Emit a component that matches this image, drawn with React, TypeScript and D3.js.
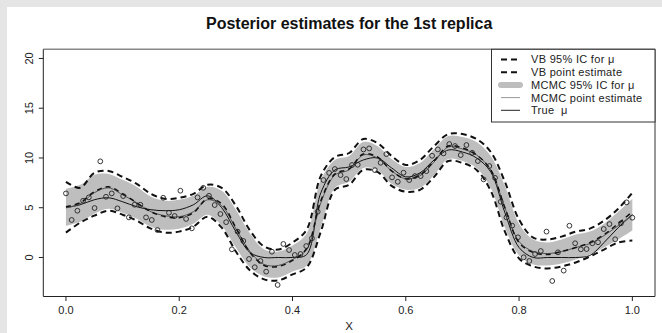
import React from 'react';
import * as d3 from 'd3';

// grid on which the curves were read
const gridX = [0, 0.025, 0.05, 0.075, 0.1, 0.125, 0.15, 0.175, 0.2, 0.225, 0.25, 0.275, 0.3, 0.325, 0.35, 0.375, 0.4, 0.425, 0.45, 0.475, 0.5, 0.525, 0.55, 0.575, 0.6, 0.625, 0.65, 0.675, 0.7, 0.725, 0.75, 0.775, 0.8, 0.825, 0.85, 0.875, 0.9, 0.925, 0.95, 0.975, 1.0];

const trueMu = [5.0, 5.3, 5.8, 6.0, 5.6, 5.1, 4.8, 4.7, 4.8, 5.3, 6.2, 5.0, 2.6, 0.5, 0, 0, 0, 0.3, 6.5, 8.8, 9.1, 9.8, 10.0, 9.0, 8.1, 8.5, 9.8, 10.8, 10.6, 10.0, 8.6, 4.5, 1.0, 0, 0, 0, 0, 0.2, 1.5, 3.0, 4.3];

const mcmcMean = [5.0, 5.4, 6.5, 7.0, 6.3, 5.5, 4.6, 4.2, 4.1, 4.6, 5.8, 5.2, 2.9, 0.6, -0.7, -0.8, -0.2, 0.8, 5.5, 8.3, 8.8, 10.3, 10.0, 8.7, 7.9, 8.2, 9.6, 11.1, 10.9, 10.3, 8.8, 5.0, 1.6, 0.6, 0.4, 0.6, 1.0, 1.4, 2.2, 3.2, 4.3];
const mcmcLo = [3.2, 3.6, 4.4, 4.9, 4.5, 3.9, 3.1, 2.8, 2.9, 3.4, 4.3, 3.2, 1.0, -1.0, -1.9, -2.0, -1.4, -0.8, 3.0, 7.0, 7.6, 9.0, 8.8, 7.4, 6.8, 7.0, 8.3, 9.9, 9.7, 9.0, 7.0, 3.0, 0.2, -0.7, -0.8, -0.6, -0.2, 0.3, 1.0, 1.8, 2.7];
const mcmcHi = [6.9, 7.3, 8.3, 8.4, 7.8, 7.1, 6.1, 5.7, 5.8, 6.2, 7.1, 6.7, 4.8, 2.4, 0.8, 0.6, 1.2, 2.4, 7.8, 9.8, 10.2, 11.6, 11.2, 9.9, 9.1, 9.5, 10.9, 12.2, 12.1, 11.6, 10.2, 7.2, 3.4, 1.8, 1.5, 1.8, 2.3, 2.6, 3.4, 4.6, 5.9];

const vbMean = [5.1, 5.5, 6.6, 7.1, 6.4, 5.5, 4.6, 4.1, 4.0, 4.5, 5.9, 5.4, 3.0, 0.5, -0.8, -0.9, -0.3, 0.9, 5.7, 8.4, 8.9, 10.4, 10.1, 8.7, 7.9, 8.3, 9.7, 11.2, 11.0, 10.3, 8.8, 5.0, 1.5, 0.5, 0.3, 0.6, 1.0, 1.5, 2.3, 3.4, 4.6];
const vbLo = [2.5, 3.5, 4.2, 4.7, 4.3, 3.7, 2.9, 2.5, 2.6, 3.1, 4.1, 3.0, 0.6, -1.3, -2.2, -2.3, -1.7, -1.0, 2.6, 6.8, 7.3, 8.8, 8.6, 7.2, 6.6, 6.8, 8.1, 9.7, 9.5, 8.8, 6.7, 2.6, -0.1, -0.9, -1.1, -0.9, -0.5, 0.1, 0.8, 1.5, 1.7];
const vbHi = [7.6, 7.0, 8.5, 8.7, 8.1, 7.4, 6.4, 5.9, 6.0, 6.4, 7.3, 7.0, 5.2, 2.7, 1.1, 0.8, 1.5, 2.8, 8.2, 10.1, 10.5, 11.9, 11.5, 10.2, 9.3, 9.8, 11.2, 12.4, 12.4, 11.9, 10.6, 7.6, 3.8, 2.0, 1.8, 2.1, 2.6, 2.9, 3.7, 4.9, 6.5];

// observations (100 equally spaced points on [0,1])
const obsY = [6.44, 3.77, 4.7, 5.7, 6.04, 4.97, 9.66, 6.1, 6.44, 4.94, 6.17, 4.03, 5.3, 5.3, 4.03, 3.77, 2.76, 6.0, 4.5, 4.17, 6.71, 3.87, 2.93, 6.04, 7.0, 6.2, 5.27, 4.37, 3.55, 0.82, 2.6, 1.66, -0.15, -0.98, -0.35, -1.42, 0.58, -2.76, 1.36, 0.75, 0.25, 0.35, 1.15, 1.93, 4.6, 7.78, 8.5, 8.89, 8.28, 7.88, 9.29, 9.32, 10.86, 10.96, 8.78, 9.52, 10.39, 8.05, 7.61, 8.52, 7.78, 8.18, 8.18, 8.68, 10.22, 10.86, 10.46, 11.4, 11.2, 10.29, 11.3, 10.52, 9.69, 7.85, 9.19, 8.0, 5.6, 4.03, 3.2, 2.03, 0.02, -0.35, 0.35, 0.65, 2.6, -2.36, 0.52, -1.32, 3.19, 1.43, 0.82, 0.85, 1.43, 1.53, 2.86, 3.36, 1.83, 3.43, 5.54, 4.0];

const xTicks = [0, 0.2, 0.4, 0.6, 0.8, 1.0];
const xTickLabels = ['0.0', '0.2', '0.4', '0.6', '0.8', '1.0'];
const yTicks = [0, 5, 10, 15, 20];
const yTickLabels = ['0', '5', '10', '15', '20'];

const legendLabels = ['VB 95% IC for \u03bc', 'VB point estimate', 'MCMC 95% IC for \u03bc', 'MCMC point estimate', 'True  \u03bc'];

const FONT = '"Liberation Sans", Arial, Helvetica, sans-serif';

export default function App() {
  const W = 662, H = 333;
  const left = 43.3, right = 655, top = 49.3, bottom = 296.5;
  const x = d3.scaleLinear().domain([-0.04, 1.04]).range([left, right]);
  const y = d3.scaleLinear().domain([-3.92, 20.92]).range([bottom, top]);
  const obsX = obsY.map((_, i) => i / (obsY.length - 1));

  const curve = d3.curveCatmullRom.alpha(0.5);
  const mkLine = (arr: number[]) =>
    d3.line<number>().x((_, i) => x(gridX[i])).y((d) => y(d)).curve(curve)(arr) || '';
  const band = d3
    .area<number>()
    .x((_, i) => x(gridX[i]))
    .y0((_, i) => y(mcmcLo[i]))
    .y1((_, i) => y(mcmcHi[i]))
    .curve(curve)(gridX) || '';

  const lgX0 = 491.5;
  const rowY = [59.5, 72.2, 84.9, 97.6, 110.3];

  return (
    <svg width={W} height={H} style={{ position: 'absolute', left: 0, top: 0 }} fontFamily={FONT}>
      <rect x={0} y={0} width={W} height={H} fill="#e5e5e5" />
      <rect x={7} y={7} width={W - 7} height={H - 7} fill="#ffffff" />
      <text x={(left + right) / 2} y={29} textAnchor="middle" fontSize={16} fontWeight="bold" fill="#111">
        Posterior estimates for the 1st replica
      </text>

      <path d={band} fill="#bebebe" stroke="none" />
      <path d={mkLine(trueMu)} fill="none" stroke="#111" strokeWidth={1} />
      <path d={mkLine(mcmcMean)} fill="none" stroke="#555" strokeWidth={1} />
      <path d={mkLine(vbMean)} fill="none" stroke="#111" strokeWidth={1.5} strokeDasharray="5,4" />
      <path d={mkLine(vbLo)} fill="none" stroke="#111" strokeWidth={2} strokeDasharray="6,4" />
      <path d={mkLine(vbHi)} fill="none" stroke="#111" strokeWidth={2} strokeDasharray="6,4" />
      {obsY.map((v, i) => (
        <circle key={i} cx={x(obsX[i])} cy={y(v)} r={2.4} fill="none" stroke="#222" strokeWidth={0.9} />
      ))}

      {/* plot box */}
      <line x1={left} y1={top} x2={right} y2={top} stroke="#888" strokeWidth={1.5} />
      <line x1={left} y1={top} x2={left} y2={bottom} stroke="#222" strokeWidth={1} />
      <line x1={left} y1={bottom} x2={right} y2={bottom} stroke="#222" strokeWidth={1} />
      <line x1={right} y1={top} x2={right} y2={bottom} stroke="#333" strokeWidth={1} />

      {/* x axis */}
      {xTicks.map((t, i) => (
        <g key={'x' + i}>
          <line x1={x(t)} x2={x(t)} y1={bottom} y2={bottom + 4.5} stroke="#222" />
          <text x={x(t)} y={314} textAnchor="middle" fontSize={11} fill="#222">{xTickLabels[i]}</text>
        </g>
      ))}
      <text x={(left + right) / 2} y={330} textAnchor="middle" fontSize={11.5} fill="#222">X</text>

      {/* y axis */}
      {yTicks.map((t, i) => (
        <g key={'y' + i}>
          <line x1={left - 4.5} x2={left} y1={y(t)} y2={y(t)} stroke="#222" />
          <text transform={`translate(32.5,${y(t)}) rotate(-90)`} textAnchor="middle" fontSize={11} fill="#222">{yTickLabels[i]}</text>
        </g>
      ))}

      {/* legend */}
      <rect x={lgX0} y={top} width={right - lgX0} height={122 - top} fill="#fff" stroke="#333" strokeWidth={1} />
      <line x1={501} x2={520} y1={rowY[0]} y2={rowY[0]} stroke="#111" strokeWidth={2} strokeDasharray="6,4" />
      <line x1={501} x2={520} y1={rowY[1]} y2={rowY[1]} stroke="#111" strokeWidth={2} strokeDasharray="6,4" />
      <line x1={501} x2={520} y1={rowY[2]} y2={rowY[2]} stroke="#bebebe" strokeWidth={6} strokeLinecap="round" />
      <line x1={501} x2={520} y1={rowY[3]} y2={rowY[3]} stroke="#999" strokeWidth={1} />
      <line x1={501} x2={520} y1={rowY[4]} y2={rowY[4]} stroke="#222" strokeWidth={1} />
      {legendLabels.map((l, i) => (
        <text key={'l' + i} x={531} y={rowY[i] + 3.9} fontSize={11} letterSpacing={0.3} fill="#222" style={{ whiteSpace: 'pre' }}>{l}</text>
      ))}
    </svg>
  );
}
